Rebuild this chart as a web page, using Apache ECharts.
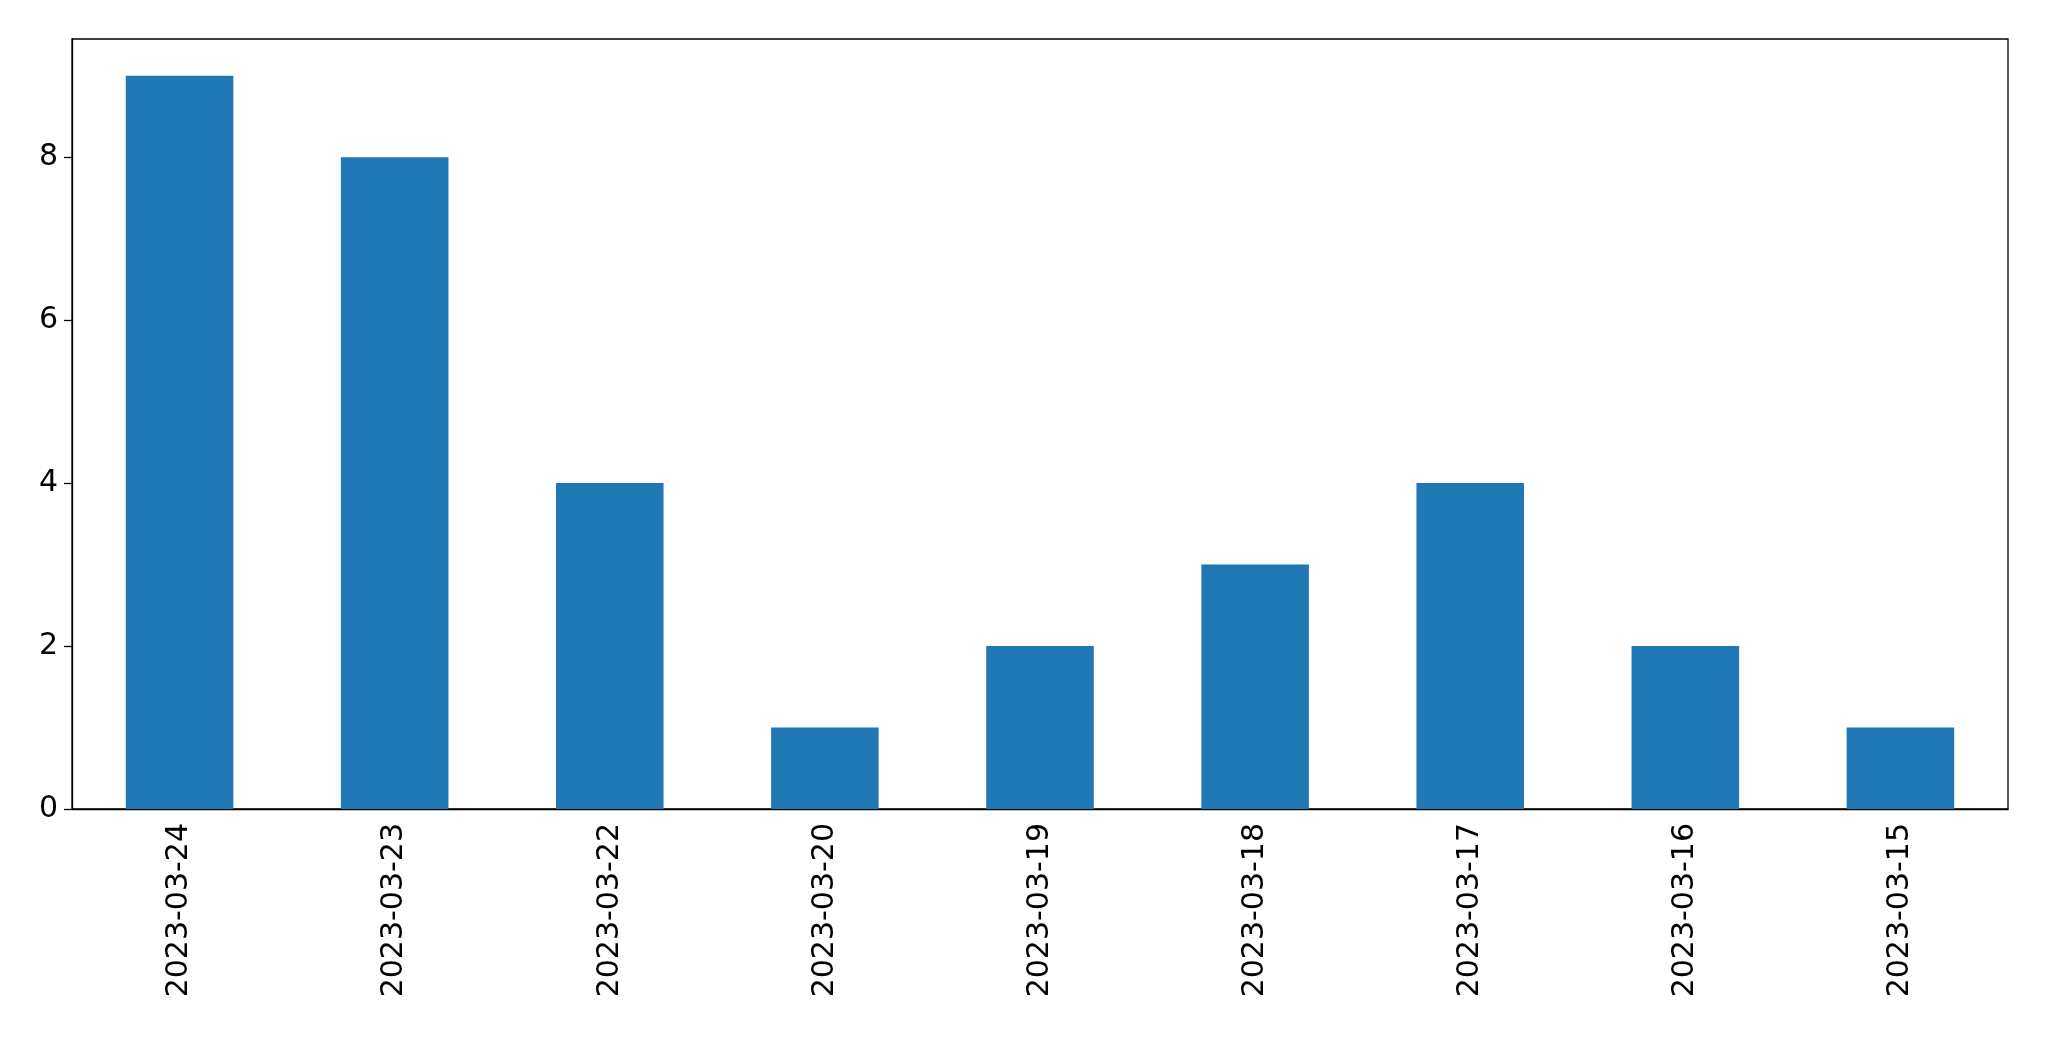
<!DOCTYPE html>
<html><head><meta charset="utf-8">
<script src="https://cdn.jsdelivr.net/npm/echarts@6/dist/echarts.min.js"></script>
<style>html,body{margin:0;padding:0;background:#fff}#c{width:2049px;height:1061px}</style>
</head><body><div id="c"></div>
<script>
const categories = ["2023-03-24","2023-03-23","2023-03-22","2023-03-20","2023-03-19","2023-03-18","2023-03-17","2023-03-16","2023-03-15"];
const values = [9,8,4,1,2,3,4,2,1];
const yTicks = [0,2,4,6,8];
const chart = echarts.init(document.getElementById('c'));
const font = {fontFamily:'DejaVu Sans', fontSize:30, color:'#000'};
chart.setOption({
  animation:false,
  grid:{left:72,right:41,top:39,bottom:252,show:true,borderColor:'#000',borderWidth:1.3},
  xAxis:{type:'category',data:categories,
    axisLine:{lineStyle:{color:'#000',width:1.3}},
    axisTick:{alignWithLabel:true,length:8,lineStyle:{color:'#000',width:1.3}},
    axisLabel:Object.assign({rotate:90,margin:14},font)},
  yAxis:{type:'value',min:0,max:9.45,interval:2,
    axisLine:{show:true,lineStyle:{color:'#000',width:1.3}},
    axisTick:{show:true,length:8,lineStyle:{color:'#000',width:1.3}},
    splitLine:{show:false},
    axisLabel:Object.assign({margin:14,showMaxLabel:false,formatter:v=>yTicks.includes(v)?String(v):''},font)},
  series:[{type:'bar',data:values,barWidth:'50%',itemStyle:{color:'#1f77b4'}}]
});
</script></body></html>
